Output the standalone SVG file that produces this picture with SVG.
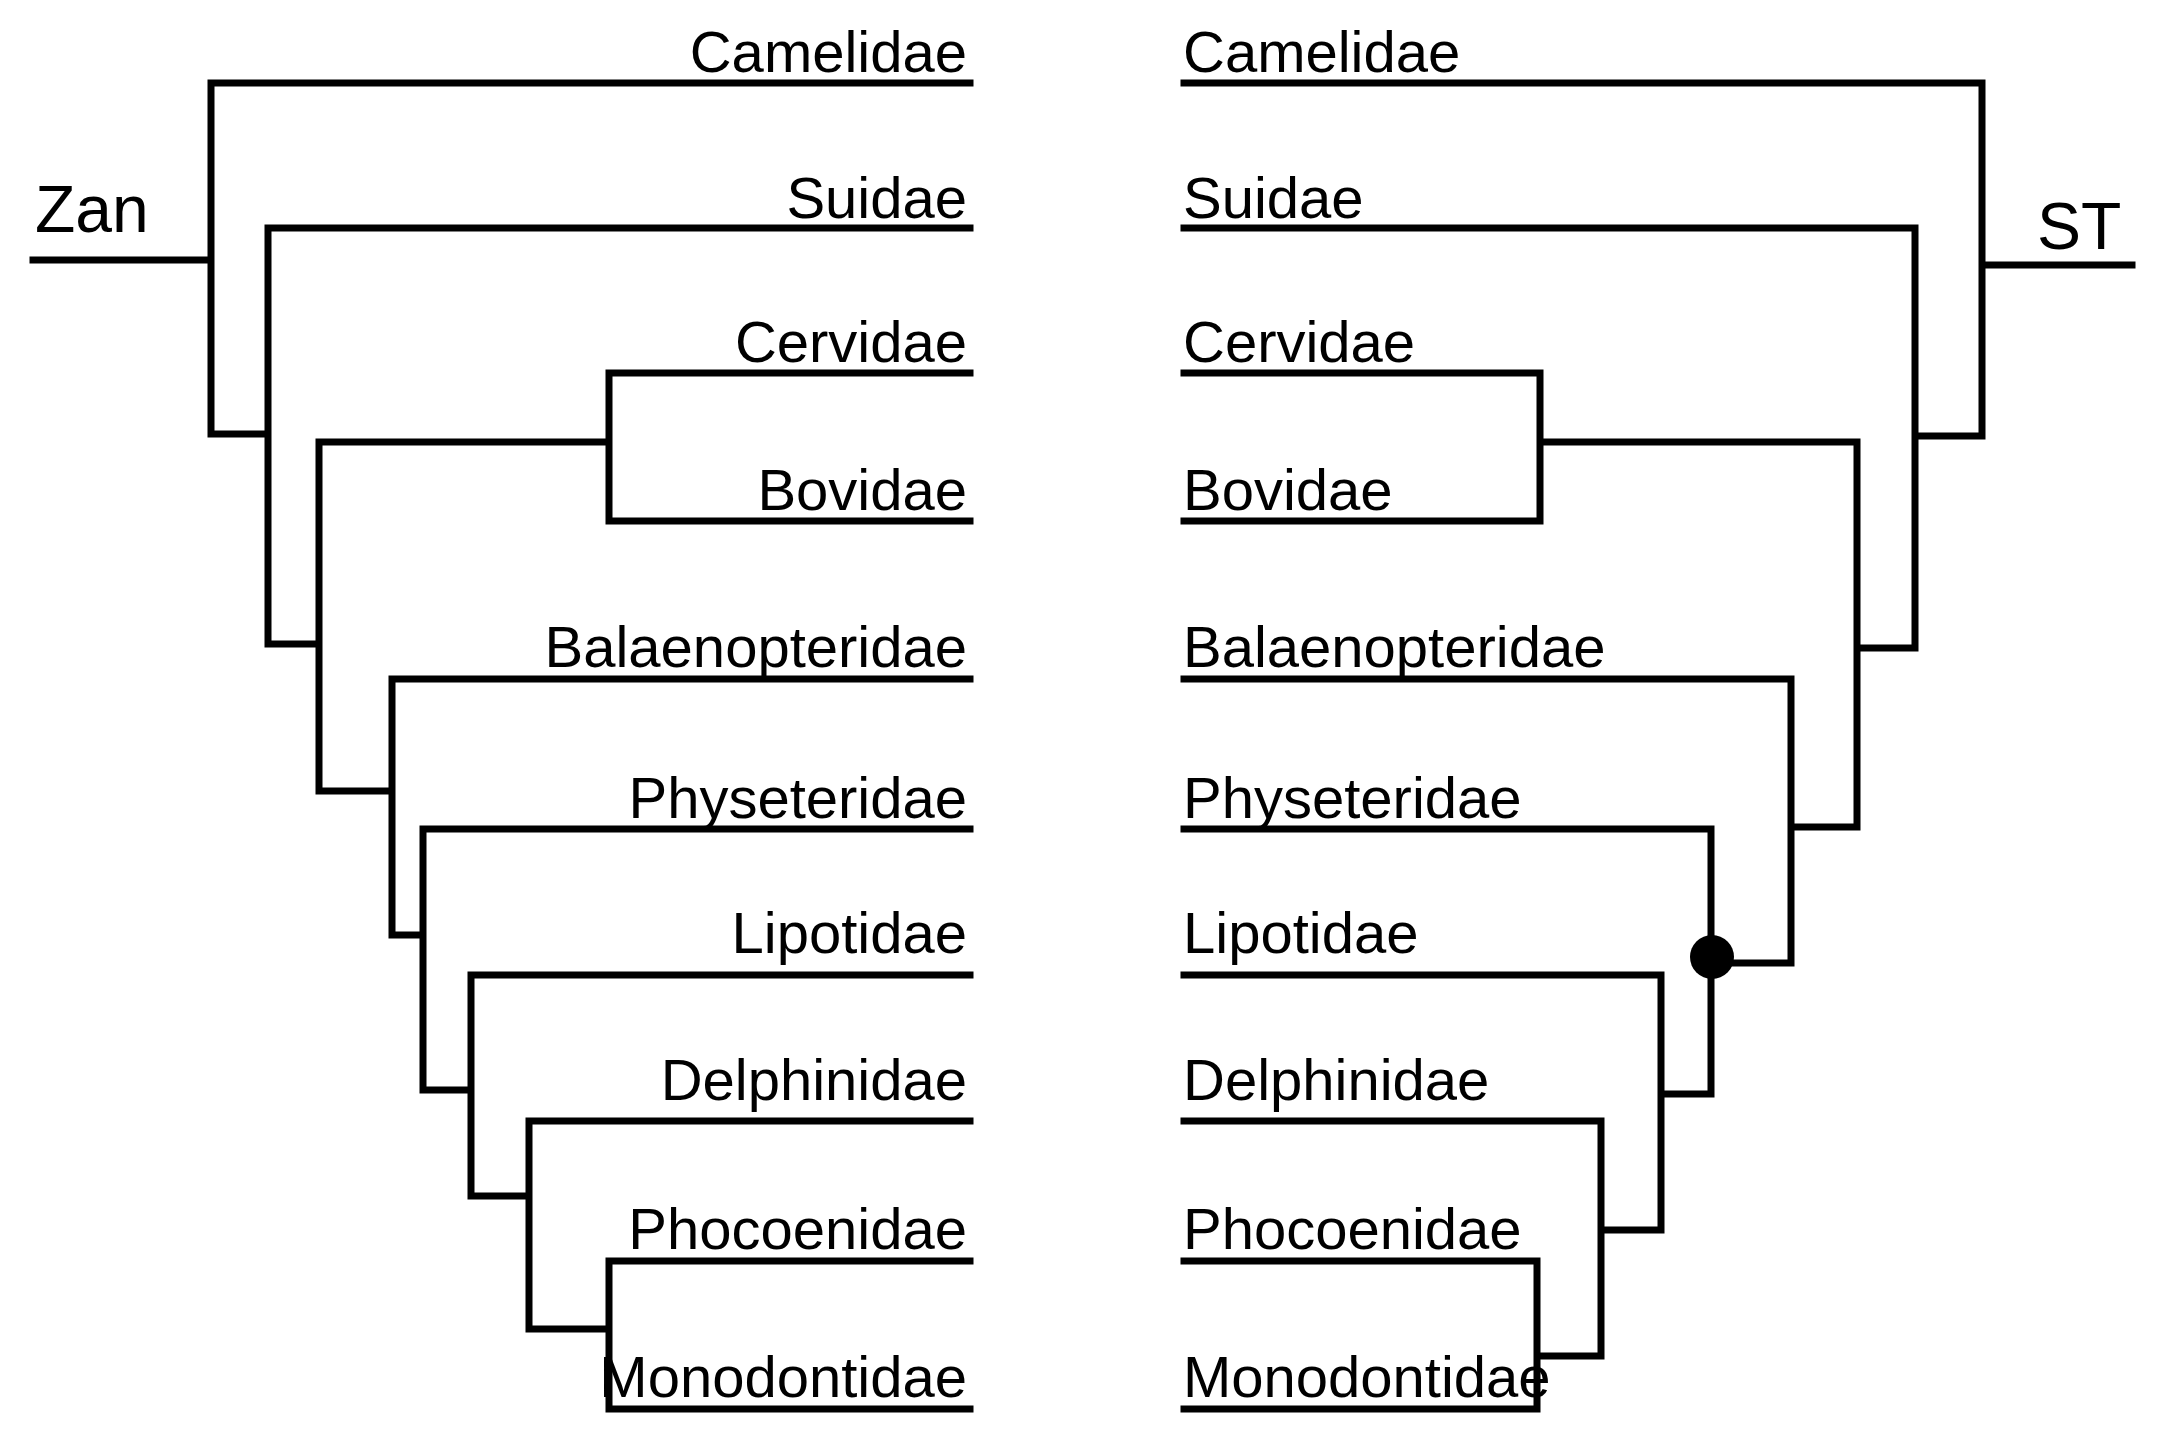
<svg xmlns="http://www.w3.org/2000/svg" width="2166" height="1437" viewBox="0 0 2166 1437">
<style>
.e{fill:none;stroke:#000;stroke-width:7;stroke-linejoin:miter;stroke-linecap:square}
text{font-family:"Liberation Sans",Arial,sans-serif;font-size:58px;fill:#000}
.r{text-anchor:end}
.big{font-size:66px}
</style>
<rect width="2166" height="1437" fill="#fff"/>
<g id="connectors">
<path class="e" d="M33 260H211M211 83V434H268M211 83H970M268 228V644H319M268 228H970M319 442V791H392M319 442H609M609 373V521M609 373H970M609 521H970M392 679V935H423M392 679H970M423 829V1090H471M423 829H970M471 975V1196H529M471 975H970M529 1121V1329H609M529 1121H970M609 1261V1409M609 1261H970M609 1409H970"/>
<path class="e" d="M2132 265H1982M1982 83V436H1915M1982 83H1184M1915 228V648H1857M1915 228H1184M1540 373V521M1540 373H1184M1540 521H1184M1540 442H1857V827H1791M1791 679V963H1711M1791 679H1184M1711 829V1094H1661M1711 829H1184M1661 975V1230H1601M1661 975H1184M1601 1121V1356H1537M1601 1121H1184M1537 1261V1409M1537 1261H1184M1537 1409H1184"/>
<circle cx="1712" cy="957" r="22" fill="#000"/>
</g>
<g id="left-labels">
<text x="35" y="232" class="big">Zan</text>
<text class="r" x="967" y="72">Camelidae</text>
<text class="r" x="967" y="218">Suidae</text>
<text class="r" x="967" y="362">Cervidae</text>
<text class="r" x="967" y="510">Bovidae</text>
<text class="r" x="967" y="667">Balaenopteridae</text>
<text class="r" x="967" y="818">Physeteridae</text>
<text class="r" x="967" y="953">Lipotidae</text>
<text class="r" x="967" y="1100">Delphinidae</text>
<text class="r" x="967" y="1249">Phocoenidae</text>
<text class="r" x="967" y="1397">Monodontidae</text>
</g>
<g id="right-labels">
<text x="2037" y="249" class="big">ST</text>
<text x="1183" y="72">Camelidae</text>
<text x="1183" y="218">Suidae</text>
<text x="1183" y="362">Cervidae</text>
<text x="1183" y="510">Bovidae</text>
<text x="1183" y="667">Balaenopteridae</text>
<text x="1183" y="818">Physeteridae</text>
<text x="1183" y="953">Lipotidae</text>
<text x="1183" y="1100">Delphinidae</text>
<text x="1183" y="1249">Phocoenidae</text>
<text x="1183" y="1397">Monodontidae</text>
</g>
</svg>
